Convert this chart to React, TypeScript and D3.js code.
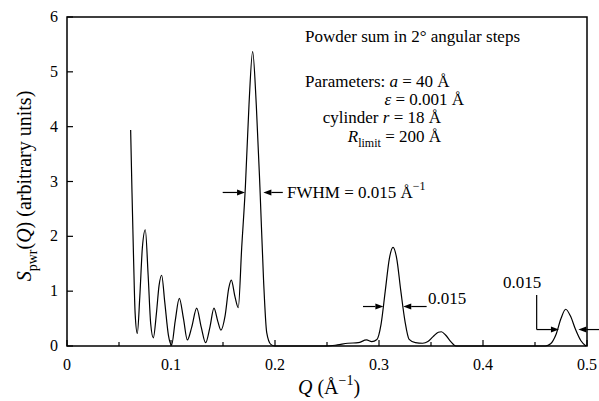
import React from 'react';
import * as d3 from 'd3';

// powder-summed S(Q)
const qValues = [
  0.0612, 0.0625, 0.064, 0.0655, 0.0676, 0.07, 0.0725, 0.0753, 0.078, 0.0805,
  0.083, 0.086, 0.0885, 0.091, 0.094, 0.0975, 0.1006, 0.104, 0.108, 0.112,
  0.1157, 0.12, 0.1247, 0.129, 0.1333, 0.1375, 0.1413, 0.145, 0.148, 0.152,
  0.1555, 0.158, 0.1615, 0.1647, 0.168, 0.1715, 0.175, 0.1785, 0.182, 0.1855,
  0.189, 0.192, 0.196, 0.2, 0.25, 0.26, 0.27, 0.28, 0.288, 0.293,
  0.298, 0.302, 0.306, 0.31, 0.3135, 0.317, 0.321, 0.325, 0.329, 0.335,
  0.342, 0.347, 0.352, 0.357, 0.36, 0.364, 0.369, 0.374, 0.46, 0.465,
  0.47, 0.475, 0.4795, 0.484, 0.489, 0.494, 0.499,
];
const sValues = [
  3.94, 2.8, 1.6, 0.6, 0.23, 0.9, 1.8, 2.12, 1.3, 0.4,
  0.15, 0.6, 1.1, 1.29, 0.8, 0.2, 0.02, 0.45, 0.87, 0.5,
  0.11, 0.35, 0.69, 0.35, 0.06, 0.35, 0.69, 0.45, 0.29, 0.55,
  1.05, 1.2, 0.9, 0.7, 1.8, 2.9, 4.4, 5.37, 4.4, 2.9,
  1.2, 0.25, 0.03, 0.0, 0.0, 0.02, 0.05, 0.06, 0.11, 0.08,
  0.12, 0.4, 1.0, 1.6, 1.8, 1.6, 1.0, 0.45, 0.12, 0.06,
  0.05, 0.08, 0.17, 0.25, 0.26, 0.2, 0.08, 0.0, 0.0, 0.04,
  0.2, 0.5, 0.67, 0.55, 0.3, 0.1, 0.0,
];

const xTicks = [0, 0.1, 0.2, 0.3, 0.4, 0.5];
const xMinorTicks = [0.05, 0.15, 0.25, 0.35, 0.45];
const yTicks = [0, 1, 2, 3, 4, 5, 6];

const W = 599;
const H = 401;
const margin = { left: 67, right: 12, top: 17, bottom: 55 };
const FONT = '"Liberation Serif", "Times New Roman", serif';

function Arrow({ x1, x2, y }: { x1: number; x2: number; y: number }) {
  const dir = x2 > x1 ? 1 : -1;
  const len = 8;
  return (
    <g>
      <line x1={x1} y1={y} x2={x2 - dir * len} y2={y} stroke="#000" strokeWidth={1.2} />
      <path d={`M${x2},${y} L${x2 - dir * len},${y - 3} L${x2 - dir * len},${y + 3} Z`} fill="#000" />
    </g>
  );
}

export default function App() {
  const x = d3.scaleLinear().domain([0, 0.5]).range([margin.left, W - margin.right]);
  const y = d3.scaleLinear().domain([0, 6]).range([H - margin.bottom, margin.top]);

  const pts: [number, number][] = qValues.map((q, i) => [q, sValues[i]]);
  const line = d3
    .line<[number, number]>()
    .x((d) => x(d[0]))
    .y((d) => y(d[1]))
    .curve(d3.curveMonotoneX);

  const x0 = x(0);
  const x1 = x(0.5);
  const y0 = y(0);
  const y1 = y(6);

  return (
    <svg
      width={W}
      height={H}
      style={{ position: 'absolute', left: 0, top: 0, background: '#fff' }}
      fontFamily={FONT}
    >
      <rect x={x0} y={y1} width={x1 - x0} height={y0 - y1} fill="none" stroke="#000" strokeWidth={1.5} />

      {xTicks.map((t) => (
        <g key={`xt-${t}`}>
          <line x1={x(t)} x2={x(t)} y1={y0} y2={y0 - 6} stroke="#000" strokeWidth={1.2} />
          <text x={x(t)} y={y0 + 24} fontSize={16} textAnchor="middle">
            {t === 0 ? '0' : t.toString()}
          </text>
        </g>
      ))}
      {xMinorTicks.map((t) => (
        <line key={`xm-${t}`} x1={x(t)} x2={x(t)} y1={y0} y2={y0 - 4} stroke="#000" strokeWidth={1.2} />
      ))}
      {yTicks.map((t) => (
        <g key={`yt-${t}`}>
          <line x1={x0} x2={x0 + 6} y1={y(t)} y2={y(t)} stroke="#000" strokeWidth={1.2} />
          <text x={x0 - 9} y={y(t) + 5} fontSize={16} textAnchor="end">
            {t}
          </text>
        </g>
      ))}

      <path d={line(pts) || ''} fill="none" stroke="#000" strokeWidth={1.2} />

      {/* axis titles */}
      <text x={329} y={394} fontSize={20} textAnchor="middle">
        <tspan fontStyle="italic">Q</tspan> (Å<tspan fontSize={14} dy={-9}>−1</tspan>
        <tspan dy={9}>)</tspan>
      </text>
      <text transform="translate(31,186) rotate(-90)" fontSize={20} textAnchor="middle">
        <tspan fontStyle="italic">S</tspan>
        <tspan fontSize={14} dy={6}>pwr</tspan>
        <tspan dy={-6}>(</tspan>
        <tspan fontStyle="italic">Q</tspan>) (arbitrary units)
      </text>

      {/* annotations */}
      <g fontSize={17}>
        <text x={305} y={42}>Powder sum in 2° angular steps</text>
        <text x={305} y={87}>
          Parameters: <tspan fontStyle="italic">a</tspan> = 40 Å
        </text>
        <text x={464} y={105} textAnchor="end">
          <tspan fontStyle="italic">ε</tspan> = 0.001 Å
        </text>
        <text x={441} y={123} textAnchor="end">
          cylinder <tspan fontStyle="italic">r</tspan> = 18 Å
        </text>
        <text x={441} y={142} textAnchor="end">
          <tspan fontStyle="italic">R</tspan>
          <tspan fontSize={12} dy={5}>limit</tspan>
          <tspan dy={-5}> = 200 Å</tspan>
        </text>

        <text x={287} y={198}>
          FWHM = 0.015 Å<tspan fontSize={12} dy={-8}>−1</tspan>
        </text>
        <text x={428} y={304}>0.015</text>
        <text x={503} y={288}>0.015</text>
      </g>

      <Arrow x1={x(0.1497)} x2={x(0.1712)} y={y(2.8)} />
      <Arrow x1={x(0.2075)} x2={x(0.1888)} y={y(2.8)} />
      <Arrow x1={x(0.2846)} x2={x(0.3042)} y={y(0.72)} />
      <Arrow x1={x(0.3458)} x2={x(0.3233)} y={y(0.72)} />

      <line x1={x(0.4516)} x2={x(0.4516)} y1={y(0.93)} y2={y(0.3)} stroke="#000" strokeWidth={1.2} />
      <Arrow x1={x(0.4516)} x2={x(0.473)} y={y(0.3)} />
      <Arrow x1={W} x2={x(0.4917)} y={y(0.3)} />
    </svg>
  );
}
